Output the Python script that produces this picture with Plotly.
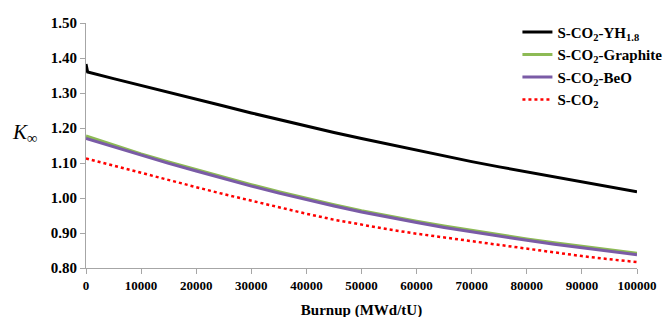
import plotly.graph_objects as go

burnup = [0, 5000, 10000, 15000, 20000, 25000, 30000, 35000, 40000, 45000, 50000,
          55000, 60000, 65000, 70000, 75000, 80000, 85000, 90000, 95000, 100000]

burnup_yh = [0, 300] + burnup[1:]
k_yh = [1.383, 1.360, 1.341, 1.322, 1.302, 1.283, 1.263, 1.243, 1.224, 1.205, 1.187, 1.170,
        1.153, 1.136, 1.120, 1.104, 1.089, 1.075, 1.061, 1.046, 1.032, 1.018]
k_beo = [1.170, 1.146, 1.122, 1.099, 1.077, 1.055, 1.034, 1.014, 0.995, 0.977, 0.960,
         0.944, 0.930, 0.916, 0.903, 0.891, 0.879, 0.868, 0.858, 0.848, 0.838]
k_graphite = [1.177, 1.151, 1.126, 1.103, 1.081, 1.059, 1.038, 1.018, 0.999, 0.981, 0.964,
              0.948, 0.934, 0.920, 0.907, 0.895, 0.883, 0.872, 0.862, 0.852, 0.842]
k_sco2 = [1.113, 1.092, 1.071, 1.051, 1.031, 1.011, 0.992, 0.973, 0.955, 0.938, 0.923,
          0.910, 0.898, 0.887, 0.876, 0.865, 0.854, 0.844, 0.834, 0.825, 0.817]

names = ["S-CO<sub>2</sub>-YH<sub>1.8</sub>", "S-CO<sub>2</sub>-Graphite",
         "S-CO<sub>2</sub>-BeO", "S-CO<sub>2</sub>"]

x_ticks = [0, 10000, 20000, 30000, 40000, 50000, 60000, 70000, 80000, 90000, 100000]
y_ticks = [0.80, 0.90, 1.00, 1.10, 1.20, 1.30, 1.40, 1.50]

FONT = "Liberation Serif, Times New Roman, serif"

fig = go.Figure()
fig.add_trace(go.Scatter(x=burnup_yh, y=k_yh, mode="lines", name=names[0],
                         line=dict(color="#000000", width=3)))
fig.add_trace(go.Scatter(x=burnup, y=k_graphite, mode="lines", name=names[1],
                         line=dict(color="#8dba55", width=3)))
fig.add_trace(go.Scatter(x=burnup, y=k_beo, mode="lines", name=names[2],
                         line=dict(color="#7a5ba6", width=3)))
fig.add_trace(go.Scatter(x=burnup, y=k_sco2, mode="lines", name=names[3],
                         line=dict(color="#ff0000", width=2.5, dash="dot")))

fig.add_annotation(xref="paper", yref="paper", x=0, y=0.55, xshift=-76,
                   xanchor="left", yanchor="middle", showarrow=False,
                   text="<i>K</i><sub>∞</sub>", font=dict(family=FONT, size=21, color="black"))

fig.update_layout(
    width=671, height=317,
    margin=dict(l=78, r=42, t=8, b=57),
    paper_bgcolor="white", plot_bgcolor="white",
    font=dict(family=FONT, color="black"),
    showlegend=True,
    legend=dict(x=0.783, y=1.03, xanchor="left", yanchor="top",
                font=dict(family=FONT, size=15, color="black", weight="bold"),
                bgcolor="rgba(0,0,0,0)", tracegroupgap=0),
    xaxis=dict(range=[0, 100000], tickvals=x_ticks, ticktext=[str(v) for v in x_ticks],
               showgrid=False, zeroline=False, showline=True, linecolor="#a6a6a6",
               linewidth=1, ticks="outside", ticklen=5, tickcolor="#a6a6a6",
               tickfont=dict(family=FONT, size=13, weight="bold"),
               title=dict(text="<b>Burnup (MWd/tU)</b>", font=dict(family=FONT, size=15),
                          standoff=12)),
    yaxis=dict(range=[0.80, 1.50], tickvals=y_ticks, ticktext=["%.2f" % v for v in y_ticks],
               showgrid=False, zeroline=False, showline=True, linecolor="#a6a6a6",
               linewidth=1, ticks="outside", ticklen=5, tickcolor="#a6a6a6",
               tickfont=dict(family=FONT, size=15, weight="bold")),
)

fig.write_html("out.html")
